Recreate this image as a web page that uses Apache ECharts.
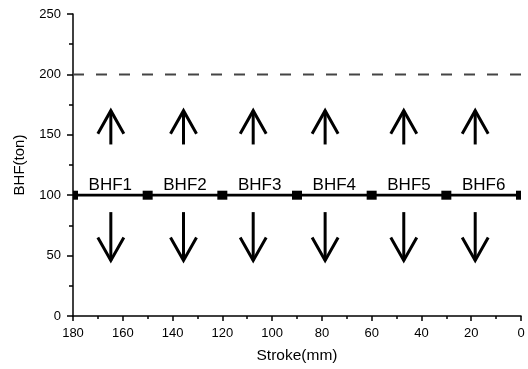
<!DOCTYPE html>
<html><head><meta charset="utf-8">
<script src="https://cdn.jsdelivr.net/npm/echarts@6/dist/echarts.min.js"></script>
<style>html,body{margin:0;padding:0;background:#fff}#c{width:528px;height:369px}</style>
</head><body><div id="c"></div>
<script>
const segmentBounds = [180, 150, 120, 90, 60, 30, 0];
const bhfLevel = 100;
const limitLevel = 200;
const stageLabels = ['BHF1', 'BHF2', 'BHF3', 'BHF4', 'BHF5', 'BHF6'];
const labelStroke = [165, 135, 105, 75, 45, 15];
const labelLevel = 108.5;
const arrowStroke = [164.8, 135.6, 107.6, 78.7, 47.1, 18.4];
const upArrow = [142, 170];   // [tail, tip]
const downArrow = [86, 46];   // [tail, tip]

const chart = echarts.init(document.getElementById('c'));
const font = 'Liberation Sans, Arial, sans-serif';

function arrowItem(params, api) {
  const x = api.value(0), y0 = api.value(1), y1 = api.value(2);
  const a = api.coord([x, y0]), b = api.coord([x, y1]);
  const dir = b[1] < a[1] ? 1 : -1;
  const hw = 13, hl = 23;
  return {
    type: 'group',
    children: [
      { type: 'line', shape: { x1: a[0], y1: a[1], x2: b[0], y2: b[1] }, style: { stroke: '#000', lineWidth: 3 } },
      { type: 'polyline', shape: { points: [[b[0] - hw, b[1] + dir * hl], [b[0], b[1]], [b[0] + hw, b[1] + dir * hl]] },
        style: { stroke: '#000', lineWidth: 3, fill: null, lineJoin: 'miter' } }
    ]
  };
}

function squareItem(params, api) {
  const c = api.coord([api.value(0), api.value(1)]);
  const w = 10, h = 9;
  const cs = params.coordSys;
  const r = echarts.graphic.clipRectByRect(
    { x: c[0] - w / 2, y: c[1] - h / 2, width: w, height: h },
    { x: cs.x, y: cs.y, width: cs.width, height: cs.height });
  return r && { type: 'rect', shape: r, style: { fill: '#000' } };
}

function textItem(params, api) {
  const c = api.coord([api.value(0), api.value(1)]);
  return { type: 'text', x: c[0], y: c[1],
    style: { text: stageLabels[params.dataIndex], fill: '#000', font: '17px ' + font, align: 'center', verticalAlign: 'middle' } };
}

chart.setOption({
  animation: false,
  grid: { left: 73, right: 7, top: 14, bottom: 50, containLabel: false },
  xAxis: {
    type: 'value', min: 0, max: 180, interval: 20, inverse: true,
    name: 'Stroke(mm)', nameLocation: 'middle', nameGap: 32,
    nameTextStyle: { fontFamily: font, fontSize: 15.5, color: '#000' },
    axisLine: { show: true, onZero: false, lineStyle: { color: '#000', width: 1.5 } },
    axisTick: { show: true, inside: false, length: 5, lineStyle: { color: '#000', width: 1.5 } },
    minorTick: { show: true, splitNumber: 2, length: 3, lineStyle: { color: '#000', width: 1.5 } },
    axisLabel: { margin: 11, fontFamily: font, fontSize: 13, color: '#000' },
    splitLine: { show: false }
  },
  yAxis: {
    type: 'value', min: 0, max: 250, interval: 50,
    name: 'BHF(ton)', nameLocation: 'middle', nameGap: 46,
    nameTextStyle: { fontFamily: font, fontSize: 15, color: '#000' },
    axisLine: { show: true, onZero: false, lineStyle: { color: '#000', width: 1.5 } },
    axisTick: { show: true, inside: false, length: 6, lineStyle: { color: '#000', width: 1.5 } },
    minorTick: { show: true, splitNumber: 2, length: 4, lineStyle: { color: '#000', width: 1.5 } },
    axisLabel: { margin: 12, fontFamily: font, fontSize: 13, color: '#000' },
    splitLine: { show: false }
  },
  series: [
    { type: 'line', data: [[segmentBounds[0], limitLevel], [segmentBounds[segmentBounds.length - 1], limitLevel]],
      symbol: 'none', lineStyle: { color: '#444', width: 2, type: [11, 12] }, z: 2 },
    { type: 'line', data: segmentBounds.map(s => [s, bhfLevel]),
      symbol: 'none', lineStyle: { color: '#000', width: 2.8 }, z: 3 },
    { type: 'custom', renderItem: squareItem, data: segmentBounds.map(s => [s, bhfLevel]), z: 4 },
    { type: 'custom', renderItem: arrowItem, data: arrowStroke.map(s => [s, upArrow[0], upArrow[1]]), z: 4 },
    { type: 'custom', renderItem: arrowItem, data: arrowStroke.map(s => [s, downArrow[0], downArrow[1]]), z: 4 },
    { type: 'custom', renderItem: textItem, data: labelStroke.map(s => [s, labelLevel]), z: 5 }
  ]
});
</script></body></html>
